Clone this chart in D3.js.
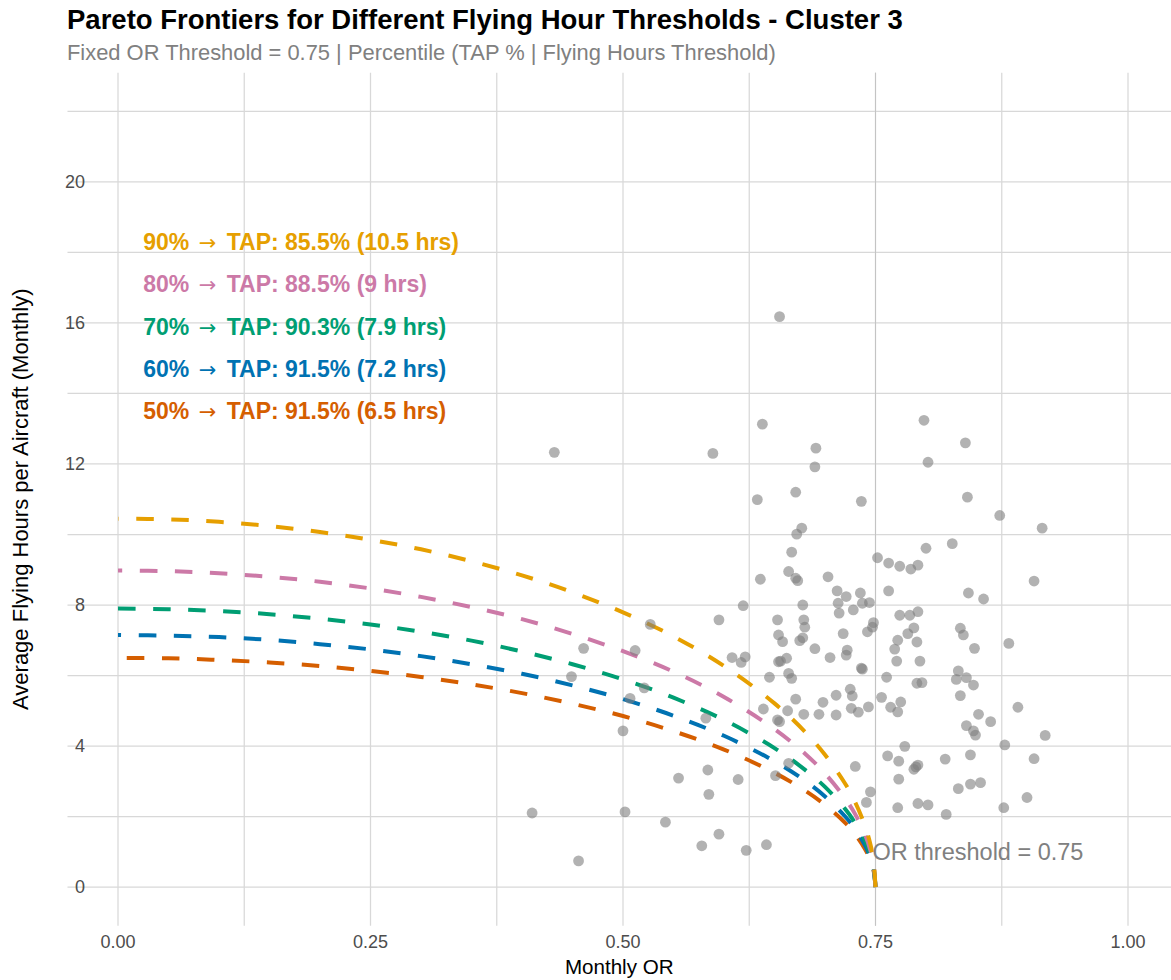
<!DOCTYPE html>
<html lang="en">
<head>
  <meta charset="UTF-8">
  <title>Pareto Frontiers - Cluster 3</title>
  <script src="https://d3js.org/d3.v7.min.js"></script>
  <style>
    body { margin: 0; background: #fff; }
    svg { display: block; font-family: "Liberation Sans", Arial, Helvetica, sans-serif; }
    .grid line { stroke: #d8d8d8; stroke-width: 1.25px; }
    .tick-label { fill: #4d4d4d; font-size: 18px; }
    .frontier { fill: none; stroke-width: 4px; stroke-dasharray: 17.5 17.5; stroke-linecap: butt; }
    .pt { fill: #7f7f7f; fill-opacity: 0.6; }
    .arrow { font-family: "DejaVu Sans", sans-serif; font-weight: normal; }
  </style>
</head>
<body>
<svg width="1171" height="980"></svg>
<script>
  // scatter: monthly OR vs average flying hours per aircraft
  const pointOR = [
    0.432, 0.589, 0.655, 0.638, 0.691, 0.690, 0.798, 0.839, 0.802, 0.633,
    0.671, 0.736, 0.841, 0.873, 0.915, 0.677, 0.672, 0.667, 0.800, 0.826,
    0.752, 0.763, 0.774, 0.785, 0.792, 0.664, 0.671, 0.673, 0.636, 0.703,
    0.907, 0.595, 0.527, 0.461, 0.512, 0.449, 0.521, 0.507, 0.582, 0.500,
    0.584, 0.555, 0.585, 0.410, 0.502, 0.542, 0.595, 0.578, 0.456, 0.712,
    0.721, 0.735, 0.763, 0.842, 0.857, 0.619, 0.678, 0.713, 0.737, 0.744,
    0.714, 0.728, 0.774, 0.784, 0.792, 0.653, 0.679, 0.680, 0.748, 0.747,
    0.742, 0.654, 0.658, 0.675, 0.678, 0.718, 0.788, 0.782, 0.772, 0.791,
    0.834, 0.837, 0.848, 0.882, 0.769, 0.690, 0.722, 0.721, 0.705, 0.621,
    0.608, 0.617, 0.656, 0.654, 0.662, 0.771, 0.794, 0.736, 0.737, 0.645,
    0.664, 0.667, 0.761, 0.791, 0.796, 0.832, 0.830, 0.840, 0.847, 0.834,
    0.891, 0.725, 0.727, 0.711, 0.698, 0.671, 0.639, 0.663, 0.679, 0.694,
    0.711, 0.726, 0.733, 0.743, 0.756, 0.765, 0.772, 0.775, 0.653, 0.655,
    0.852, 0.864, 0.840, 0.847, 0.849, 0.918, 0.878, 0.779, 0.762, 0.773,
    0.790, 0.788, 0.792, 0.819, 0.844, 0.907, 0.730, 0.664, 0.651, 0.614,
    0.773, 0.832, 0.844, 0.854, 0.745, 0.741, 0.772, 0.792, 0.802, 0.820,
    0.877, 0.900, 0.622, 0.642
  ];
  const pointHours = [
    12.33, 12.30, 16.18, 13.13, 12.45, 11.92, 13.24, 12.60, 12.05, 10.99,
    11.20, 10.94, 11.06, 10.54, 10.18, 10.18, 10.01, 9.50, 9.61, 9.74,
    9.34, 9.19, 9.10, 9.02, 9.13, 8.95, 8.76, 8.69, 8.73, 8.80,
    8.68, 7.58, 7.45, 6.77, 6.71, 5.97, 5.65, 5.35, 4.79, 4.43,
    3.32, 3.09, 2.63, 2.10, 2.13, 1.84, 1.50, 1.17, 0.74, 8.40,
    8.24, 8.34, 8.40, 8.34, 8.17, 7.98, 8.00, 8.05, 8.05, 8.07,
    7.77, 7.86, 7.71, 7.71, 7.81, 7.58, 7.58, 7.37, 7.50, 7.37,
    7.24, 7.15, 6.96, 6.99, 7.07, 7.19, 7.35, 7.19, 7.00, 6.95,
    7.34, 7.15, 6.77, 6.91, 6.75, 6.76, 6.72, 6.58, 6.51, 6.53,
    6.51, 6.37, 6.41, 6.39, 6.49, 6.41, 6.41, 6.21, 6.18, 5.95,
    6.06, 5.92, 5.95, 5.78, 5.80, 6.13, 5.89, 5.94, 5.73, 5.43,
    5.10, 5.61, 5.42, 5.44, 5.24, 5.33, 5.05, 5.00, 4.90, 4.90,
    4.88, 5.07, 4.96, 5.11, 5.38, 5.10, 4.97, 5.25, 4.74, 4.69,
    4.90, 4.69, 4.58, 4.43, 4.31, 4.30, 4.03, 3.99, 3.72, 3.57,
    3.41, 3.34, 3.46, 3.63, 3.75, 3.64, 3.42, 3.51, 3.16, 3.05,
    3.06, 2.79, 2.92, 2.96, 2.70, 2.40, 2.25, 2.37, 2.33, 2.06,
    2.25, 2.54, 1.04, 1.20
  ];

  // frontier curves, OR from 0 to the 0.75 threshold
  const frontierOR = [0, 0.05, 0.1, 0.15, 0.2, 0.25, 0.3, 0.35, 0.4, 0.45, 0.5,
    0.55, 0.6, 0.65, 0.68, 0.7, 0.72, 0.73, 0.74, 0.745, 0.748, 0.75];
  const frontier50 = [6.50, 6.49, 6.44, 6.37, 6.27, 6.13, 5.96, 5.75, 5.50, 5.20, 4.85,
    4.42, 3.90, 3.24, 2.74, 2.33, 1.82, 1.49, 1.06, 0.75, 0.48, 0];
  const frontier60 = [7.15, 7.13, 7.09, 7.01, 6.89, 6.74, 6.55, 6.32, 6.05, 5.72, 5.33,
    4.86, 4.29, 3.57, 3.02, 2.57, 2.00, 1.64, 1.16, 0.82, 0.52, 0];
  const frontier70 = [7.90, 7.88, 7.83, 7.74, 7.61, 7.45, 7.24, 6.99, 6.68, 6.32, 5.89,
    5.37, 4.74, 3.94, 3.33, 2.84, 2.21, 1.81, 1.29, 0.91, 0.58, 0];
  const frontier80 = [8.98, 8.96, 8.90, 8.80, 8.66, 8.47, 8.23, 7.94, 7.60, 7.18, 6.69,
    6.11, 5.39, 4.48, 3.79, 3.22, 2.51, 2.06, 1.46, 1.04, 0.66, 0];
  const frontier90 = [10.45, 10.43, 10.36, 10.24, 10.07, 9.85, 9.58, 9.24, 8.84, 8.36, 7.79,
    7.11, 6.27, 5.21, 4.41, 3.75, 2.93, 2.40, 1.70, 1.21, 0.76, 0];

  const percentiles = ["50%", "60%", "70%", "80%", "90%"];
  const tapPct = [91.5, 91.5, 90.3, 88.5, 85.5];
  const hoursThreshold = ["6.5", "7.2", "7.9", "9", "10.5"];
  const seriesColors = ["#D55E00", "#0072B2", "#009E73", "#CC79A7", "#E69F00"];
  const frontiers = [frontier50, frontier60, frontier70, frontier80, frontier90];
  const labelHours = [13.5, 14.7, 15.9, 17.1, 18.3];

  const xTicks = [0, 0.25, 0.5, 0.75, 1];
  const xMinor = [0.125, 0.375, 0.625, 0.875];
  const yTicks = [0, 4, 8, 12, 16, 20];
  const yMinor = [2, 6, 10, 14, 18, 22];
  const orThreshold = 0.75;

  const svg = d3.select("svg");
  const x = d3.scaleLinear().domain([-0.05, 1.05]).range([67.5, 1178.5]);
  const y = d3.scaleLinear().domain([-1.1, 23.1]).range([925.8, 72.7]);
  const [x0, x1] = [67.5, 1171];
  const [yTop, yBot] = y.range().slice().reverse();

  // grid
  const grid = svg.append("g").attr("class", "grid");
  grid.selectAll(".gy").data(yTicks.concat(yMinor)).join("line")
    .attr("x1", x0).attr("x2", x1)
    .attr("y1", d => y(d)).attr("y2", d => y(d));
  grid.selectAll(".gx").data(xTicks.concat(xMinor)).join("line")
    .attr("y1", y(-1.1)).attr("y2", y(23.1))
    .attr("x1", d => x(d)).attr("x2", d => x(d));

  // threshold line
  svg.append("line")
    .attr("x1", x(orThreshold)).attr("x2", x(orThreshold))
    .attr("y1", y(-1.1)).attr("y2", y(23.1))
    .attr("stroke", "#c4c4c4").attr("stroke-width", 1);

  // tick labels
  svg.append("g").selectAll("text").data(xTicks).join("text")
    .attr("class", "tick-label")
    .attr("x", d => x(d)).attr("y", 948)
    .attr("text-anchor", "middle")
    .text(d => d3.format(".2f")(d));
  svg.append("g").selectAll("text").data(yTicks).join("text")
    .attr("class", "tick-label")
    .attr("x", 85).attr("y", d => y(d)).attr("dy", "0.35em")
    .attr("text-anchor", "end")
    .text(d => d);

  // frontiers, drawn from the threshold end back to OR = 0
  const line = d3.line()
    .x(d => x(d[0])).y(d => y(d[1]))
    .curve(d3.curveCatmullRom);
  frontiers.forEach((f, i) => {
    const pts = frontierOR.map((o, j) => [o, f[j]]).reverse();
    svg.append("path")
      .attr("class", "frontier")
      .attr("stroke", seriesColors[i])
      .attr("d", line(pts));
  });

  // points
  svg.append("g").selectAll("circle").data(pointOR).join("circle")
    .attr("class", "pt")
    .attr("cx", d => x(d))
    .attr("cy", (d, i) => y(pointHours[i]))
    .attr("r", 5.4);

  // annotation labels
  const labels = svg.append("g").selectAll("text").data(percentiles).join("text")
    .attr("x", x(0.025))
    .attr("y", (d, i) => y(labelHours[i]))
    .attr("dy", "0.36em")
    .attr("fill", (d, i) => seriesColors[i])
    .attr("font-weight", "bold")
    .attr("font-size", 23);
  labels.append("tspan").text(d => `${d} `);
  labels.append("tspan").attr("class", "arrow").attr("font-size", 21).attr("dx", 3).text("\u2192");
  labels.append("tspan").attr("dx", 4)
    .text((d, i) => ` TAP: ${tapPct[i]}% (${hoursThreshold[i]} hrs)`);

  svg.append("text")
    .attr("x", x(0.747)).attr("y", y(1)).attr("dy", "0.36em")
    .attr("fill", "#808080").attr("font-size", 23.5)
    .text("OR threshold = 0.75");

  // titles
  svg.append("text")
    .attr("x", 67).attr("y", 29)
    .attr("font-size", 27.5).attr("font-weight", "bold").attr("fill", "#000")
    .text("Pareto Frontiers for Different Flying Hour Thresholds - Cluster 3");
  svg.append("text")
    .attr("x", 67).attr("y", 60)
    .attr("font-size", 21.9).attr("fill", "#808080")
    .text("Fixed OR Threshold = 0.75 | Percentile (TAP % | Flying Hours Threshold)");

  svg.append("text")
    .attr("x", (x0 + x1) / 2).attr("y", 974)
    .attr("text-anchor", "middle").attr("font-size", 20.6)
    .text("Monthly OR");
  svg.append("text")
    .attr("transform", `translate(28,${(yTop + yBot) / 2}) rotate(-90)`)
    .attr("text-anchor", "middle").attr("font-size", 22)
    .text("Average Flying Hours per Aircraft (Monthly)");
</script>
</body>
</html>
